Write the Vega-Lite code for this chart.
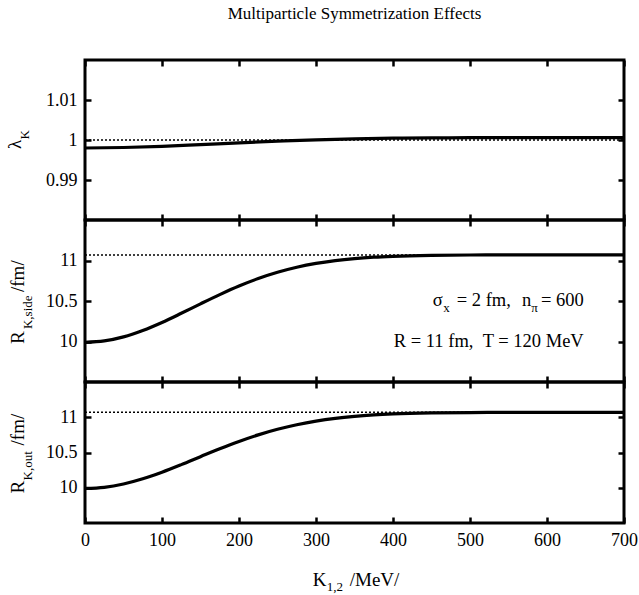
{
  "$schema": "https://vega.github.io/schema/vega-lite/v6.json",
  "padding": {"left": 4, "top": 5, "right": 10, "bottom": 0},
  "background": "white",
  "title": {"text": "Multiparticle Symmetrization Effects", "font": "Liberation Serif", "fontSize": 17, "fontWeight": "normal", "color": "black", "anchor": "middle", "frame": "group", "offset": 34},
  "spacing": 0,
  "bounds": "flush",
  "config": {
    "view": {"stroke": "black", "strokeWidth": 3},
    "concat": {"spacing": 0},
    "axis": {"domain": false, "grid": false, "tickColor": "black", "tickWidth": 2.5, "tickSize": -6, "labelFont": "Liberation Serif", "labelFontSize": 18, "labelColor": "black", "labelPadding": 14, "labelFlush": false, "title": null},
    "text": {"font": "Liberation Serif", "color": "black"}
  },
  "datasets": {
    "lam": [
      {"K": 0, "v": 0.998}, {"K": 50, "v": 0.99812}, {"K": 100, "v": 0.99842}, {"K": 150, "v": 0.99885}, {"K": 200, "v": 0.9993}, {"K": 250, "v": 0.9997}, {"K": 300, "v": 1.00005}, {"K": 350, "v": 1.0003}, {"K": 400, "v": 1.00045}, {"K": 450, "v": 1.00053}, {"K": 500, "v": 1.00057}, {"K": 600, "v": 1.0006}, {"K": 700, "v": 1.0006}
    ],
    "side": [
      {"K": 0, "v": 9.99}, {"K": 25, "v": 10.007}, {"K": 50, "v": 10.057}, {"K": 75, "v": 10.136}, {"K": 100, "v": 10.235}, {"K": 125, "v": 10.348}, {"K": 150, "v": 10.465}, {"K": 175, "v": 10.579}, {"K": 200, "v": 10.685}, {"K": 225, "v": 10.777}, {"K": 250, "v": 10.854}, {"K": 275, "v": 10.916}, {"K": 300, "v": 10.964}, {"K": 325, "v": 10.999}, {"K": 350, "v": 11.024}, {"K": 375, "v": 11.041}, {"K": 400, "v": 11.052}, {"K": 450, "v": 11.064}, {"K": 500, "v": 11.068}, {"K": 550, "v": 11.07}, {"K": 600, "v": 11.07}, {"K": 700, "v": 11.07}
    ],
    "out": [
      {"K": 0, "v": 9.99}, {"K": 25, "v": 10.006}, {"K": 50, "v": 10.053}, {"K": 75, "v": 10.127}, {"K": 100, "v": 10.221}, {"K": 125, "v": 10.328}, {"K": 150, "v": 10.441}, {"K": 175, "v": 10.553}, {"K": 200, "v": 10.657}, {"K": 225, "v": 10.75}, {"K": 250, "v": 10.829}, {"K": 275, "v": 10.894}, {"K": 300, "v": 10.946}, {"K": 325, "v": 10.985}, {"K": 350, "v": 11.013}, {"K": 375, "v": 11.033}, {"K": 400, "v": 11.047}, {"K": 450, "v": 11.062}, {"K": 500, "v": 11.067}, {"K": 550, "v": 11.069}, {"K": 600, "v": 11.07}, {"K": 700, "v": 11.07}
    ],
    "ref": [
      {"p": "lam", "K": 0, "v": 1.0}, {"p": "lam", "K": 700, "v": 1.0},
      {"p": "side", "K": 0, "v": 11.068}, {"p": "side", "K": 700, "v": 11.068},
      {"p": "out", "K": 0, "v": 11.07}, {"p": "out", "K": 700, "v": 11.07}
    ],
    "labels": [
      {"p": "lam", "kind": "rmain", "text": "λ", "K": -82.5, "v": 0.99775},
      {"p": "lam", "kind": "rsub", "text": "K", "K": -82.5, "v": 1.000125},
      {"p": "side", "kind": "rmain", "text": "R", "K": -78.6, "v": 9.969},
      {"p": "side", "kind": "rsub", "text": "K,side", "K": -78.6, "v": 10.154},
      {"p": "side", "kind": "rmain", "text": "/fm/", "K": -78.6, "v": 10.611},
      {"p": "side", "kind": "hmain", "text": "σ", "K": 451.7, "v": 10.438},
      {"p": "side", "kind": "hsub", "text": "x", "K": 465.3, "v": 10.438},
      {"p": "side", "kind": "hmain", "text": "= 2 fm,", "K": 482.8, "v": 10.438},
      {"p": "side", "kind": "hmain", "text": "n", "K": 567.4, "v": 10.438},
      {"p": "side", "kind": "hsub", "text": "π", "K": 579.7, "v": 10.438},
      {"p": "side", "kind": "hmain", "text": "= 600", "K": 592.1, "v": 10.438},
      {"p": "side", "kind": "hmain", "text": "R = 11 fm,\u00a0\u00a0T = 120 MeV", "K": 401, "v": 9.932},
      {"p": "out", "kind": "rmain", "text": "R", "K": -78.6, "v": 9.918},
      {"p": "out", "kind": "rsub", "text": "K,out", "K": -78.6, "v": 10.103},
      {"p": "out", "kind": "rmain", "text": "/fm/", "K": -78.6, "v": 10.6},
      {"p": "out", "kind": "hmain", "text": "K", "K": 295.7, "v": 8.6},
      {"p": "out", "kind": "hsub", "text": "1,2", "K": 314, "v": 8.6},
      {"p": "out", "kind": "hmain", "text": "/MeV/", "K": 343.8, "v": 8.6}
    ]
  },
  "vconcat": [
    {
      "width": 539, "height": 160,
      "resolve": {"axis": {"x": "independent", "y": "independent"}},
      "layer": [
        {"data": {"name": "ref"}, "transform": [{"filter": "datum.p == 'lam'"}],
         "mark": {"type": "line", "color": "black", "strokeWidth": 1.6, "strokeDash": [2, 2]},
         "encoding": {
           "x": {"field": "K", "type": "quantitative", "scale": {"domain": [0, 700], "nice": false}, "axis": {"orient": "top", "values": [0, 100, 200, 300, 400, 500, 600, 700], "labels": false}},
           "y": {"field": "v", "type": "quantitative", "scale": {"domain": [0.98, 1.02], "nice": false, "zero": false}, "axis": {"orient": "right", "values": [0.99, 1, 1.01], "labels": false}}
         }},
        {"data": {"name": "lam"},
         "mark": {"type": "line", "color": "black", "strokeWidth": 3.2, "interpolate": "monotone"},
         "encoding": {
           "x": {"field": "K", "type": "quantitative", "axis": {"orient": "bottom", "values": [0, 100, 200, 300, 400, 500, 600, 700], "labels": false}},
           "y": {"field": "v", "type": "quantitative", "axis": {"orient": "left", "values": [0.99, 1, 1.01], "format": "~g"}}
         }},
        {"data": {"name": "labels"}, "transform": [{"filter": "datum.p == 'lam' && datum.kind == 'rmain'"}],
         "mark": {"type": "text", "angle": 270, "align": "left", "baseline": "alphabetic", "fontSize": 19},
         "encoding": {"x": {"field": "K", "type": "quantitative", "axis": null}, "y": {"field": "v", "type": "quantitative", "axis": null}, "text": {"field": "text"}}},
        {"data": {"name": "labels"}, "transform": [{"filter": "datum.p == 'lam' && datum.kind == 'rsub'"}],
         "mark": {"type": "text", "angle": 270, "align": "left", "baseline": "alphabetic", "fontSize": 13, "dy": 8},
         "encoding": {"x": {"field": "K", "type": "quantitative", "axis": null}, "y": {"field": "v", "type": "quantitative", "axis": null}, "text": {"field": "text"}}}
      ]
    },
    {
      "width": 539, "height": 162,
      "resolve": {"axis": {"x": "independent", "y": "independent"}},
      "layer": [
        {"data": {"name": "ref"}, "transform": [{"filter": "datum.p == 'side'"}],
         "mark": {"type": "line", "color": "black", "strokeWidth": 1.6, "strokeDash": [2, 2]},
         "encoding": {
           "x": {"field": "K", "type": "quantitative", "scale": {"domain": [0, 700], "nice": false}, "axis": {"orient": "top", "values": [0, 100, 200, 300, 400, 500, 600, 700], "labels": false}},
           "y": {"field": "v", "type": "quantitative", "scale": {"domain": [9.5, 11.5], "nice": false, "zero": false}, "axis": {"orient": "right", "values": [10, 10.5, 11], "labels": false}}
         }},
        {"data": {"name": "side"},
         "mark": {"type": "line", "color": "black", "strokeWidth": 3.2, "interpolate": "monotone"},
         "encoding": {
           "x": {"field": "K", "type": "quantitative", "axis": {"orient": "bottom", "values": [0, 100, 200, 300, 400, 500, 600, 700], "labels": false}},
           "y": {"field": "v", "type": "quantitative", "axis": {"orient": "left", "values": [10, 10.5, 11], "format": "~g"}}
         }},
        {"data": {"name": "labels"}, "transform": [{"filter": "datum.p == 'side' && datum.kind == 'rmain'"}],
         "mark": {"type": "text", "angle": 270, "align": "left", "baseline": "alphabetic", "fontSize": 19},
         "encoding": {"x": {"field": "K", "type": "quantitative", "axis": null}, "y": {"field": "v", "type": "quantitative", "axis": null}, "text": {"field": "text"}}},
        {"data": {"name": "labels"}, "transform": [{"filter": "datum.p == 'side' && datum.kind == 'rsub'"}],
         "mark": {"type": "text", "angle": 270, "align": "left", "baseline": "alphabetic", "fontSize": 13, "dy": 8},
         "encoding": {"x": {"field": "K", "type": "quantitative", "axis": null}, "y": {"field": "v", "type": "quantitative", "axis": null}, "text": {"field": "text"}}},
        {"data": {"name": "labels"}, "transform": [{"filter": "datum.p == 'side' && datum.kind == 'hmain'"}],
         "mark": {"type": "text", "align": "left", "baseline": "alphabetic", "fontSize": 18.5},
         "encoding": {"x": {"field": "K", "type": "quantitative", "axis": null}, "y": {"field": "v", "type": "quantitative", "axis": null}, "text": {"field": "text"}}},
        {"data": {"name": "labels"}, "transform": [{"filter": "datum.p == 'side' && datum.kind == 'hsub'"}],
         "mark": {"type": "text", "align": "left", "baseline": "alphabetic", "fontSize": 13, "dy": 6},
         "encoding": {"x": {"field": "K", "type": "quantitative", "axis": null}, "y": {"field": "v", "type": "quantitative", "axis": null}, "text": {"field": "text"}}}
      ]
    },
    {
      "width": 539, "height": 141,
      "resolve": {"axis": {"x": "independent", "y": "independent"}},
      "layer": [
        {"data": {"name": "ref"}, "transform": [{"filter": "datum.p == 'out'"}],
         "mark": {"type": "line", "color": "black", "strokeWidth": 1.6, "strokeDash": [2, 2]},
         "encoding": {
           "x": {"field": "K", "type": "quantitative", "scale": {"domain": [0, 700], "nice": false}, "axis": {"orient": "top", "values": [0, 100, 200, 300, 400, 500, 600, 700], "labels": false}},
           "y": {"field": "v", "type": "quantitative", "scale": {"domain": [9.5, 11.5], "nice": false, "zero": false}, "axis": {"orient": "right", "values": [10, 10.5, 11], "labels": false}}
         }},
        {"data": {"name": "out"},
         "mark": {"type": "line", "color": "black", "strokeWidth": 3.2, "interpolate": "monotone"},
         "encoding": {
           "x": {"field": "K", "type": "quantitative", "axis": {"orient": "bottom", "values": [0, 100, 200, 300, 400, 500, 600, 700], "labelPadding": 14, "labelBaseline": "top"}},
           "y": {"field": "v", "type": "quantitative", "axis": {"orient": "left", "values": [10, 10.5, 11], "format": "~g"}}
         }},
        {"data": {"name": "labels"}, "transform": [{"filter": "datum.p == 'out' && datum.kind == 'rmain'"}],
         "mark": {"type": "text", "angle": 270, "align": "left", "baseline": "alphabetic", "fontSize": 19},
         "encoding": {"x": {"field": "K", "type": "quantitative", "axis": null}, "y": {"field": "v", "type": "quantitative", "axis": null}, "text": {"field": "text"}}},
        {"data": {"name": "labels"}, "transform": [{"filter": "datum.p == 'out' && datum.kind == 'rsub'"}],
         "mark": {"type": "text", "angle": 270, "align": "left", "baseline": "alphabetic", "fontSize": 13, "dy": 8},
         "encoding": {"x": {"field": "K", "type": "quantitative", "axis": null}, "y": {"field": "v", "type": "quantitative", "axis": null}, "text": {"field": "text"}}},
        {"data": {"name": "labels"}, "transform": [{"filter": "datum.p == 'out' && datum.kind == 'hmain'"}],
         "mark": {"type": "text", "align": "left", "baseline": "alphabetic", "fontSize": 19},
         "encoding": {"x": {"field": "K", "type": "quantitative", "axis": null}, "y": {"field": "v", "type": "quantitative", "axis": null}, "text": {"field": "text"}}},
        {"data": {"name": "labels"}, "transform": [{"filter": "datum.p == 'out' && datum.kind == 'hsub'"}],
         "mark": {"type": "text", "align": "left", "baseline": "alphabetic", "fontSize": 13, "dy": 5},
         "encoding": {"x": {"field": "K", "type": "quantitative", "axis": null}, "y": {"field": "v", "type": "quantitative", "axis": null}, "text": {"field": "text"}}}
      ]
    }
  ]
}
